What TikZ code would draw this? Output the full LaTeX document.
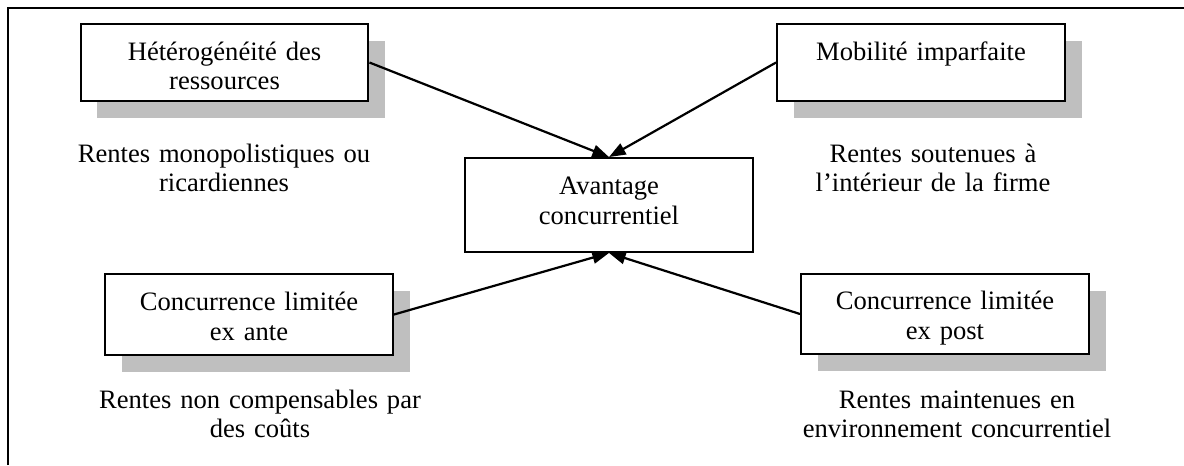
\documentclass[tikz,border=0pt]{standalone}
\usepackage{fontspec}
\setmainfont{Liberation Serif}
\usetikzlibrary{arrows.meta,shadows}

\begin{document}
\begin{tikzpicture}[
    x=0.4515pt, y=-0.4515pt,
    boite/.style={draw, fill=white, line width=0.9pt, inner sep=0pt, align=center, text width=130pt, text height=16.3pt, text depth=#1, font=\fontsize{12pt}{13.5pt}\selectfont},
    ombre/.style={drop shadow={shadow xshift=7.5pt, shadow yshift=-7.6pt, fill=black!25, opacity=1}},
    rente/.style={anchor=base, align=center, text width=150pt, inner sep=0pt, font=\fontsize{12pt}{13.5pt}\selectfont},
    fleche/.style={-{Triangle[length=7.5pt, width=5.5pt]}, line width=1pt}
]
\useasboundingbox (0,0) rectangle (1184,465);
% cadre
\draw[line width=0.9pt] (8,465) -- (8,8) -- (1184,8);

\node[boite=18.5pt, ombre] (hetero) at (224.5,62.5) {Hétérogénéité des\\ressources};
\node[boite=18.5pt, ombre] (mobil) at (921,62.5) {Mobilité imparfaite};
\node[boite=26.1pt] (avant) at (609,205) {Avantage\\concurrentiel};
\node[boite=20pt, ombre] (exante) at (249,314.5) {Concurrence limitée\\ex ante};
\node[boite=20pt, ombre] (expost) at (945,314) {Concurrence limitée\\ex post};

\node[rente] (r1) at (224,162) {Rentes monopolistiques ou\\ricardiennes};
\node[rente] (r2) at (933,162) {Rentes soutenues à\\l’intérieur de la firme};
\node[rente] (r3) at (260,408) {Rentes non compensables par\\des coûts};
\node[rente] (r4) at (957,408) {Rentes maintenues en\\environnement concurrentiel};

\draw[fleche] (hetero.east) -- (avant.north);
\draw[fleche] (mobil.west) -- (avant.north);
\draw[fleche] (exante.east) -- (avant.south);
\draw[fleche] (expost.west) -- (avant.south);
\end{tikzpicture}
\end{document}
